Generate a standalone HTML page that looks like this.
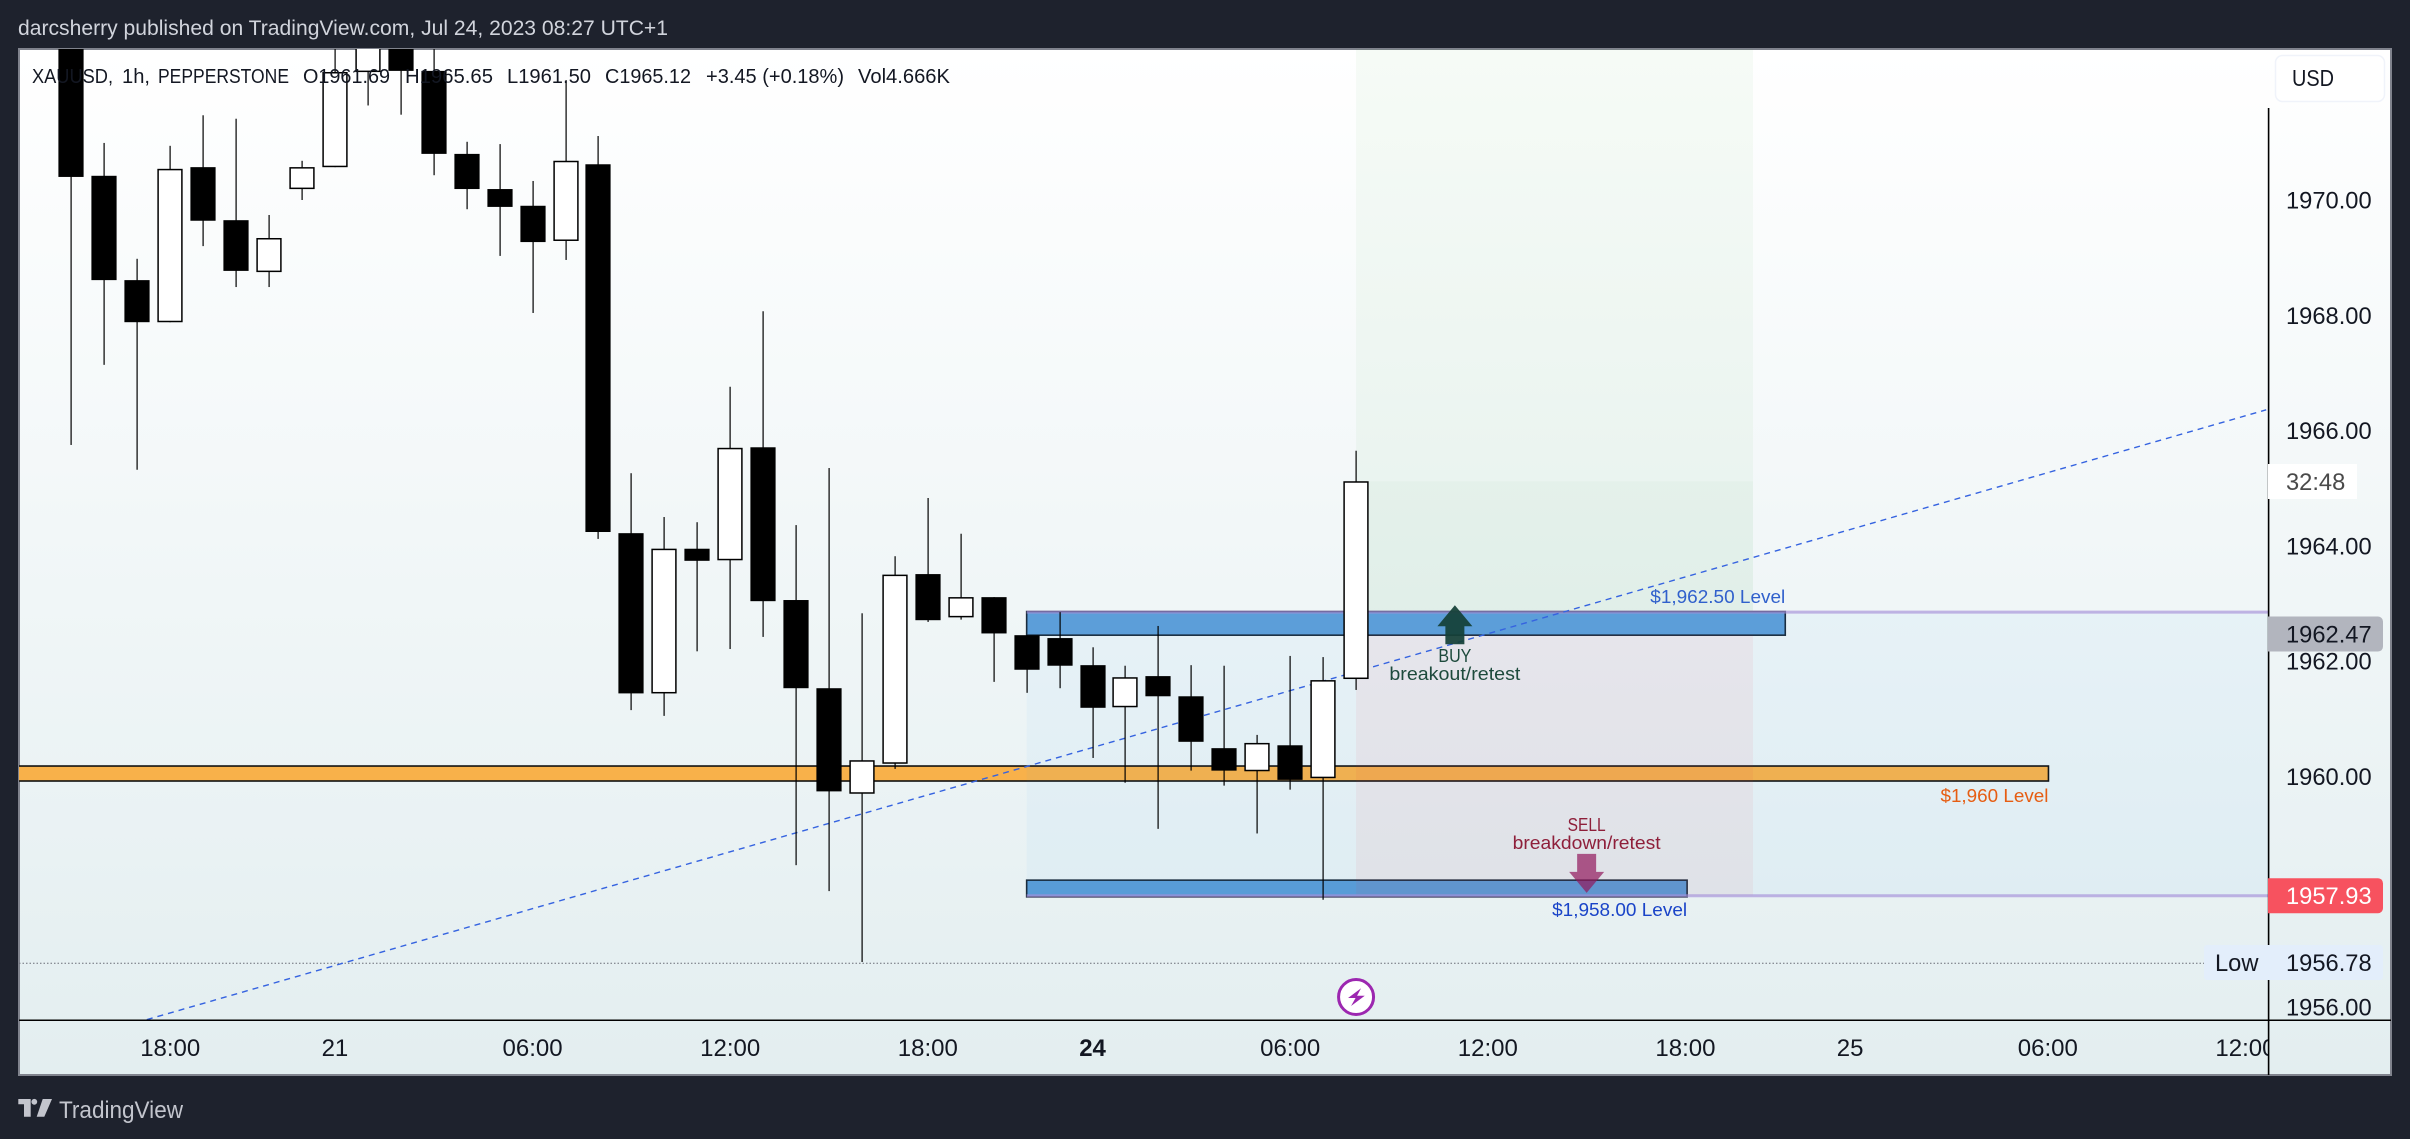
<!DOCTYPE html>
<html lang="en">
<head>
<meta charset="utf-8">
<title>XAUUSD 1h chart</title>
<style>
html,body{margin:0;padding:0;background:#1e222d;width:2410px;height:1139px;overflow:hidden}
svg{display:block;font-family:"Liberation Sans",sans-serif}
</style>
</head>
<body>
<svg id="chart" xmlns="http://www.w3.org/2000/svg" width="2410" height="1139" viewBox="0 0 2410 1139">
  <defs>
    <linearGradient id="paneGradient" x1="0" y1="0" x2="0" y2="1">
      <stop offset="0" stop-color="#ffffff"/>
      <stop offset="1" stop-color="#e3eef0"/>
    </linearGradient>
    <clipPath id="plotClip"><rect x="19" y="49" width="2249" height="971"/></clipPath>
    <clipPath id="timeClip"><rect x="19" y="1021" width="2249" height="54"/></clipPath>
  </defs>
  <rect x="0" y="0" width="2410" height="1139" fill="#1e222d"/>
  <text x="18" y="35" font-size="21" fill="#d1d4dc" textLength="650" lengthAdjust="spacingAndGlyphs">darcsherry published on TradingView.com, Jul 24, 2023 08:27 UTC+1</text>
  <rect x="19" y="49" width="2372" height="1026" fill="url(#paneGradient)" stroke="#80838d" stroke-width="2"/>
  <g id="drawings" clip-path="url(#plotClip)"></g>
  <g id="candles" clip-path="url(#plotClip)"></g>
  <g id="legend" fill="#131722" font-size="20">
    <text x="32" y="83" textLength="81" lengthAdjust="spacingAndGlyphs">XAUUSD,</text>
    <text x="122" y="83" textLength="28" lengthAdjust="spacingAndGlyphs">1h,</text>
    <text x="158" y="83" textLength="131" lengthAdjust="spacingAndGlyphs">PEPPERSTONE</text>
    <text x="303" y="83" textLength="87" lengthAdjust="spacingAndGlyphs">O1961.69</text>
    <text x="405" y="83" textLength="88" lengthAdjust="spacingAndGlyphs">H1965.65</text>
    <text x="507" y="83" textLength="84" lengthAdjust="spacingAndGlyphs">L1961.50</text>
    <text x="605" y="83" textLength="86" lengthAdjust="spacingAndGlyphs">C1965.12</text>
    <text x="706" y="83" textLength="138" lengthAdjust="spacingAndGlyphs">+3.45 (+0.18%)</text>
    <text x="858" y="83" textLength="92" lengthAdjust="spacingAndGlyphs">Vol4.666K</text>
  </g>
  <g id="axes"></g>
  <g>
    <rect x="2275.5" y="55.5" width="109" height="46" rx="7" fill="#ffffff" stroke="#f0f3fa" stroke-width="1.5"/>
    <text x="2292" y="86" font-size="23" fill="#131722" textLength="42" lengthAdjust="spacingAndGlyphs">USD</text>
  </g>
  <g>
    <path fill="#c3c5cd" d="M18.3 1099H30.7V1116.7H24V1104.3H18.3Z M42.7 1099H52L44.3 1116.7H36.7Z"/>
    <circle cx="34.3" cy="1101.8" r="2.9" fill="#c3c5cd"/>
    <text x="59" y="1118" font-size="24" fill="#c3c5cd" textLength="124" lengthAdjust="spacingAndGlyphs">TradingView</text>
  </g>
</svg>
<script>
// ---- Candle data (price units) ----
const opens  = [1973.12,1970.42,1968.61,1967.88,1970.57,1969.65,1968.75,1970.19,1970.57,1972.22,1973.12,1972.24,1970.80,1970.19,1969.90,1969.29,1970.62,1964.22,1961.44,1963.95,1963.75,1965.71,1963.06,1961.53,1959.70,1960.22,1963.51,1962.76,1963.11,1962.45,1962.40,1961.93,1961.20,1961.74,1961.39,1960.49,1960.09,1960.54,1959.97,1961.69];
const highs  = [1973.30,1970.99,1968.98,1970.94,1971.47,1971.41,1969.74,1970.68,1972.95,1973.30,1973.30,1972.95,1971.01,1970.97,1970.33,1972.08,1971.11,1965.26,1964.50,1964.41,1966.76,1968.07,1964.36,1965.35,1962.83,1963.82,1964.83,1964.21,1963.11,1962.45,1962.85,1962.24,1961.92,1962.61,1961.93,1961.92,1960.72,1962.09,1962.07,1965.65];
const lows   = [1965.75,1967.14,1965.32,1967.88,1969.20,1968.49,1968.49,1970.00,1970.57,1971.64,1971.48,1970.43,1969.84,1969.03,1968.04,1968.96,1964.12,1961.15,1961.05,1962.17,1962.21,1962.42,1958.46,1958.01,1956.78,1960.13,1962.68,1962.72,1961.64,1961.45,1961.53,1960.32,1959.89,1959.09,1960.10,1959.84,1959.01,1959.77,1957.86,1961.50];
const closes = [1970.40,1968.61,1967.88,1970.54,1969.64,1968.77,1969.34,1970.57,1972.22,1973.12,1972.24,1970.80,1970.19,1969.88,1969.27,1970.68,1964.24,1961.44,1963.95,1963.74,1965.70,1963.04,1961.53,1959.74,1960.28,1963.50,1962.71,1963.11,1962.48,1961.85,1961.92,1961.19,1961.72,1961.39,1960.60,1960.10,1960.58,1959.94,1961.67,1965.12];

// ---- Axis data ----
const priceTicks = [1970,1968,1966,1964,1962,1960,1958,1956];
const timeTickBars = [3,8,14,20,26,31,37,43,49,54,60,66];
const timeTickLabels = ["18:00","21","06:00","12:00","18:00","24","06:00","12:00","18:00","25","06:00","12:00"];
const timeTickBold = ["24"];

// ---- Drawing data (bar index / price) ----
const levelBoxStartBars = [-2,29,29];
const levelBoxEndBars = [60.02,52.03,49.05];
const levelBoxTopPrices = [1960.18,1962.86,1958.20];
const levelBoxBottomPrices = [1959.92,1962.45,1957.91];
const rangeLevelPrices = [1962.85,1957.93];
const rangeStartBar = 29;
const positionBars = [39,51.05];
const positionTargetPrice = 1973.5;
const positionEntryPrice = 1962.45;
const positionStopPrice = 1957.93;
const lastClose = 1965.12;
const trendBars = [2.29,66.63];
const trendPrices = [1955.78,1966.36];
const lowPrice = 1956.78;
const lastPriceLabels = [1962.47,1957.93];
const buyArrowBar = 42;
const buyArrowPrice = 1962.97;
const sellArrowBar = 46;
const sellArrowPrice = 1957.98;
const sessionIconBar = 39;

// ---- Scales ----
function xScale(bar){ return 71.4 + 32.94 * bar; }
function yScale(price){ return 200 + (1970 - price) * 57.64; }

const NS = "http://www.w3.org/2000/svg";
const drawings = document.getElementById("drawings");
const candleLayer = document.getElementById("candles");
const axes = document.getElementById("axes");
function make(tag, attrs, parent){
  const el = document.createElementNS(NS, tag);
  for (const k in attrs) el.setAttribute(k, attrs[k]);
  parent.appendChild(el);
  return el;
}
const PLOT_RIGHT = 2268.5;
const TICK_FONT = 23.7;

// ---- Level boxes ----
const boxFills = ["#f8b14a","#5f9fd8","#5b9dd6"];
const boxStrokes = ["#111111","#1b2a3a","#1b2a3a"];
levelBoxStartBars.forEach(function(start, i){
  const x0 = xScale(start), x1 = xScale(levelBoxEndBars[i]);
  const y0 = yScale(levelBoxTopPrices[i]), y1 = yScale(levelBoxBottomPrices[i]);
  const box = make("rect", {x:x0, y:y0, width:x1-x0, height:y1-y0, fill:boxFills[i], stroke:boxStrokes[i], "stroke-width":1.6}, drawings);
  
  
});

// ---- Shaded range and position tool ----
const rangeX = xScale(rangeStartBar);
const rangeTop = yScale(rangeLevelPrices[0]);
const rangeBottom = yScale(rangeLevelPrices[1]);
const rangeRect = make("rect", {x:rangeX, y:rangeTop, width:PLOT_RIGHT-rangeX, height:rangeBottom-rangeTop, fill:"rgba(33,150,243,0.04)"}, drawings);



const posX0 = xScale(positionBars[0]);
const posX1 = xScale(positionBars[1]);
const profitRect = make("rect", {x:posX0, y:yScale(positionTargetPrice), width:posX1-posX0, height:yScale(rangeLevelPrices[0])-yScale(positionTargetPrice), fill:"rgba(76,175,80,0.05)"}, drawings);


const profitRect2 = make("rect", {x:posX0, y:yScale(lastClose), width:posX1-posX0, height:yScale(rangeLevelPrices[0])-yScale(lastClose), fill:"rgba(76,175,80,0.03)"}, drawings);


const lossRect = make("rect", {x:posX0, y:yScale(positionEntryPrice), width:posX1-posX0, height:yScale(positionStopPrice)-yScale(positionEntryPrice), fill:"rgba(242,54,69,0.06)"}, drawings);



// ---- Horizontal purple range edges ----
rangeLevelPrices.forEach(function(p){
  const edge = make("line", {x1:rangeX, x2:PLOT_RIGHT, y1:yScale(p), y2:yScale(p), stroke:"#a48fd8", "stroke-opacity":0.65, "stroke-width":3}, drawings);
  
  
});

// ---- Low dotted line ----
const lowLine = make("line", {x1:19, x2:2204, y1:yScale(lowPrice)+1.2, y2:yScale(lowPrice)+1.2, stroke:"#6a6d78", "stroke-width":1, "stroke-dasharray":"1.5 2"}, drawings);



// ---- Trend line ----
const trend = make("line", {x1:xScale(trendBars[0]), y1:yScale(trendPrices[0]), x2:xScale(trendBars[1]), y2:yScale(trendPrices[1]), stroke:"#3563e0", "stroke-width":1.4, "stroke-dasharray":"6 5"}, drawings);



// ---- Arrows ----
const bx = xScale(buyArrowBar), by = yScale(buyArrowPrice);
const buyArrow = make("polygon", {points:[[bx,by],[bx+17.5,by+21],[bx+9.5,by+21],[bx+9.5,by+39],[bx-9.5,by+39],[bx-9.5,by+21],[bx-17.5,by+21]].join(" "), fill:"rgba(20,65,55,0.93)"}, drawings);


const sx = xScale(sellArrowBar), sy = yScale(sellArrowPrice);
const sellArrow = make("polygon", {points:[[sx,sy],[sx+17.5,sy-21],[sx+9.5,sy-21],[sx+9.5,sy-39],[sx-9.5,sy-39],[sx-9.5,sy-21],[sx-17.5,sy-21]].join(" "), fill:"rgba(145,24,93,0.7)"}, drawings);



// ---- Drawing labels ----
const buyTitle = make("text", {x:bx, y:662, "font-size":18, "text-anchor":"middle", fill:"#1d4a3c", textLength:33, lengthAdjust:"spacingAndGlyphs"}, drawings);
buyTitle.textContent = "BUY";


const buySub = make("text", {x:bx, y:680, "font-size":18, "text-anchor":"middle", fill:"#1d4a3c", textLength:131, lengthAdjust:"spacingAndGlyphs"}, drawings);
buySub.textContent = "breakout/retest";


const sellTitle = make("text", {x:sx, y:831, "font-size":18, "text-anchor":"middle", fill:"#8e1f3a", textLength:38, lengthAdjust:"spacingAndGlyphs"}, drawings);
sellTitle.textContent = "SELL";


const sellSub = make("text", {x:sx, y:849, "font-size":18, "text-anchor":"middle", fill:"#8e1f3a", textLength:148, lengthAdjust:"spacingAndGlyphs"}, drawings);
sellSub.textContent = "breakdown/retest";



const upperLevelLabel = make("text", {x:xScale(levelBoxEndBars[1])-135, y:603, "font-size":18, fill:"#3060cc", textLength:135, lengthAdjust:"spacingAndGlyphs"}, drawings);
upperLevelLabel.textContent = "$1,962.50 Level";


const lowerLevelLabel = make("text", {x:xScale(levelBoxEndBars[2])-135, y:916, "font-size":18, fill:"#1a44c8", textLength:135, lengthAdjust:"spacingAndGlyphs"}, drawings);
lowerLevelLabel.textContent = "$1,958.00 Level";


const midLevelLabel = make("text", {x:xScale(levelBoxEndBars[0])-108, y:802, "font-size":18, fill:"#e65d12", textLength:108, lengthAdjust:"spacingAndGlyphs"}, drawings);
midLevelLabel.textContent = "$1,960 Level";



// ---- Session break icon ----
const ix = xScale(sessionIconBar);
const iconRing = make("circle", {cx:ix, cy:997, r:17.5, fill:"#ffffff", stroke:"#9c27b0", "stroke-width":3}, drawings);


const iconBolt = make("polygon", {points:[[ix+5,988.3],[ix-8,998],[ix-0.5,998],[ix-5,1006],[ix+8.7,995.7],[ix+1,995.7]].join(" "), fill:"#9c27b0"}, drawings);



// ---- Candles ----
opens.forEach(function(open, i){
  const close = closes[i];
  const cx = xScale(i);
  const wx = Math.round(cx);
  const wick = make("rect", {x:wx-0.5, y:yScale(highs[i]), width:1.2, height:yScale(lows[i])-yScale(highs[i]), fill:"#000000"}, candleLayer);
  
  
  const top = yScale(Math.max(open, close));
  const bottom = yScale(Math.min(open, close));
  const up = close >= open;
  const body = make("rect", up
    ? {x:wx-11.9, y:top+0.7, width:23.8, height:Math.max(bottom-top-1.4,1), fill:"#ffffff", stroke:"#000000", "stroke-width":1.5}
    : {x:wx-12.6, y:top, width:25.2, height:bottom-top, fill:"#000000"}, candleLayer);
  
  
});

// ---- Axes ----
const priceAxisLine = make("rect", {x:2267.8, y:108, width:1.6, height:967, fill:"#000000"}, axes);


const timeAxisLine = make("rect", {x:19, y:1019.5, width:2372, height:1.5, fill:"#000000"}, axes);



priceTicks.forEach(function(p){
  const t = make("text", {x:2286, y:yScale(p)+8.5, "font-size":TICK_FONT, fill:"#131722"}, axes);
  t.textContent = p.toFixed(2);
  
  
});

const timeGroup = make("g", {"clip-path":"url(#timeClip)"}, axes);


timeTickBars.forEach(function(bar, i){
  const label = timeTickLabels[i];
  const t = make("text", {x:xScale(bar), y:1056, "font-size":24, "text-anchor":"middle", fill:"#131722", "font-weight":timeTickBold.indexOf(label) >= 0 ? "bold" : "normal"}, timeGroup);
  t.textContent = label;
  
  
});

// ---- Price labels ----
const labelFills = ["#b2b5be","#f7525f"];
const labelColors = ["#131722","#ffffff"];
lastPriceLabels.forEach(function(p, i){
  const cy = yScale(p);
  const bg = make("path", {d:"M2268 "+(cy-17.5)+"H2378a5 5 0 0 1 5 5V"+(cy+12.5)+"a5 5 0 0 1 -5 5H2268Z", fill:labelFills[i]}, axes);
  
  
  const t = make("text", {x:2286, y:cy+8.5, "font-size":TICK_FONT, fill:labelColors[i]}, axes);
  t.textContent = p.toFixed(2);
  
  
});

const countdownBg = make("rect", {x:2268, y:464, width:89, height:35, fill:"#ffffff"}, axes);


const countdownText = make("text", {x:2286, y:490, "font-size":TICK_FONT, fill:"#4a4a4a"}, axes);
countdownText.textContent = "32:48";



const lowBg = make("rect", {x:2204, y:945, width:179, height:35, rx:3, fill:"#e3eefb"}, axes);


const lowTitle = make("text", {x:2215, y:971, "font-size":TICK_FONT, fill:"#131722"}, axes);
lowTitle.textContent = "Low";


const lowValue = make("text", {x:2286, y:971, "font-size":TICK_FONT, fill:"#131722"}, axes);
lowValue.textContent = lowPrice.toFixed(2);


</script>
</body>
</html>
